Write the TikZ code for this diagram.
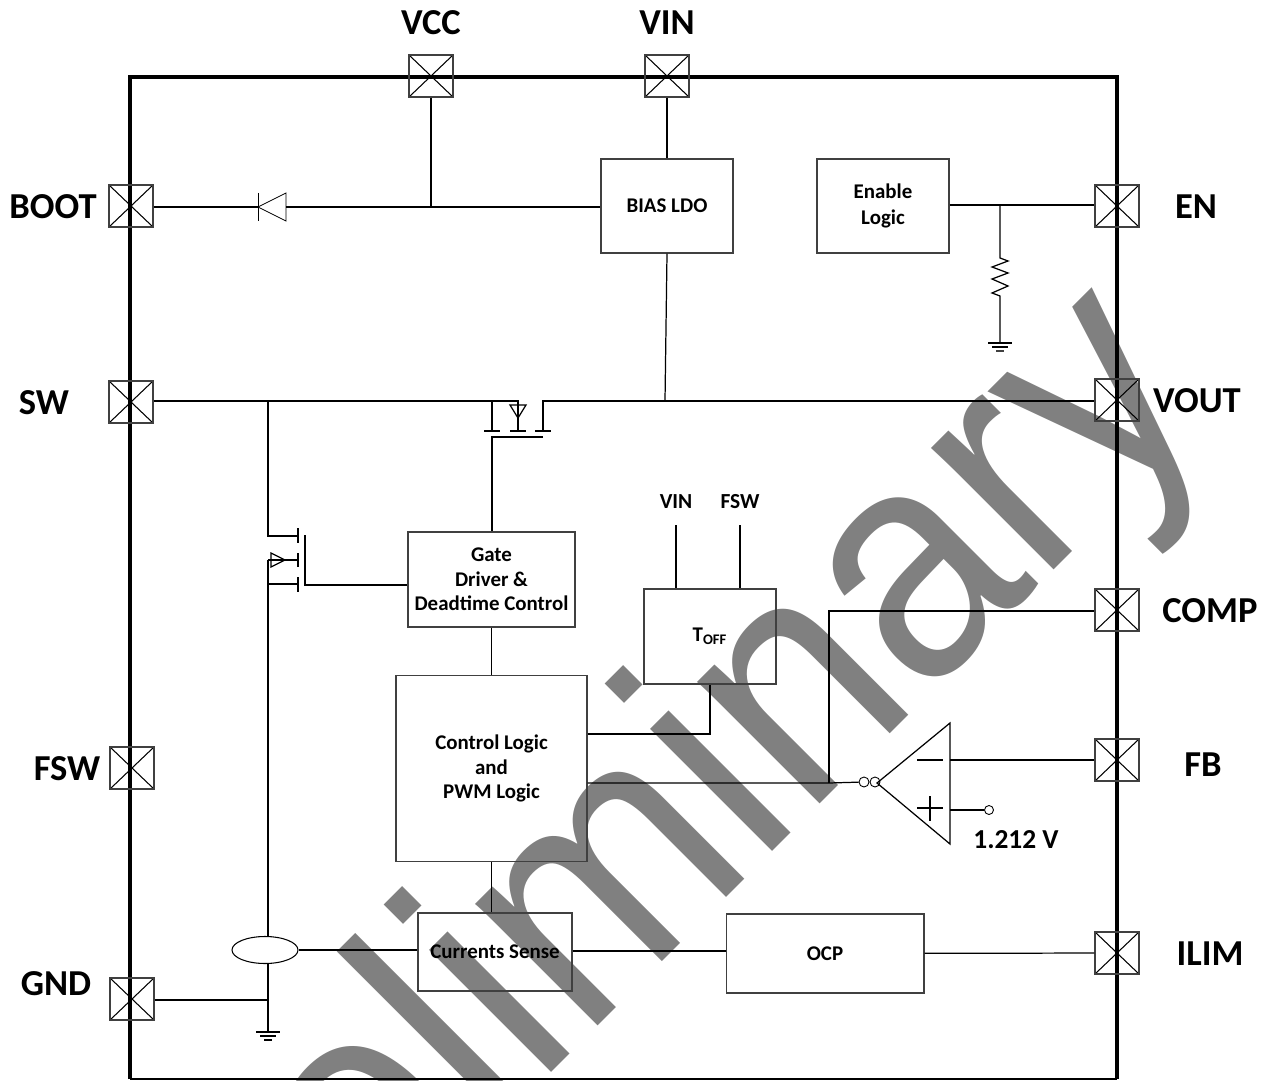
\documentclass[tikz,border=0pt]{standalone}
\usepackage{fontspec}
\setmainfont{Carlito}
\newfontfamily\markfont{Liberation Sans}
\usetikzlibrary{positioning}
\usetikzlibrary{calc}
\usetikzlibrary{shapes.geometric}
\definecolor{markgray}{HTML}{808080}
\definecolor{boxline}{HTML}{404040}

\begin{document}
\begin{tikzpicture}[
		x=0.02cm, y=-0.02cm,
		block/.style={rectangle, draw=boxline, line width=0.6pt, align=center,
				font=\fontsize{11.9}{14}\selectfont\bfseries, inner sep=0pt},
		pad/.style={rectangle, draw=boxline, line width=0.6pt, minimum width=0.88cm, minimum height=0.84cm,
				inner sep=0pt,
				path picture={\draw[black, line width=0.6pt]
						(path picture bounding box.north west) -- (path picture bounding box.south east)
						(path picture bounding box.north east) -- (path picture bounding box.south west);}},
		padname/.style={font=\fontsize{20.8}{22}\selectfont\bfseries, inner sep=0pt, yshift=-0.02cm},
		smalltext/.style={font=\fontsize{12.2}{14}\selectfont\bfseries, inner sep=0pt},
		wire/.style={line width=0.7pt, black},
		term/.style={circle, draw=black, line width=0.5pt, fill=white, inner sep=0pt, minimum size=0.2cm}
	]
	\useasboundingbox (0,0) rectangle (1268,1081);

	% watermark
	\begin{scope}
		\clip (0,0) rectangle (1268,1081);
		\node[markgray, rotate=45, anchor=base west, inner sep=0pt, font=\markfont\fontsize{186}{186}\selectfont] (mark) at (163,1461) {\scalebox{0.91}[1]{Preliminary}};
	\end{scope}

	% package outline
	\draw[black, line width=2.3pt] (130,1079) -- (130,77) -- (1117,77) -- (1117,1079);
	\draw[black, line width=1pt] (130,1079) -- (1117,1079);

	% pads
	\node[pad] (vcc) at (431,76) {};
	\node[pad] (vin) at (667,76) {};
	\node[pad] (boot) at (131,206) {};
	\node[pad] (sw) at (131,402) {};
	\node[pad] (fsw) at (132,768) {};
	\node[pad] (gnd) at (132,999) {};
	\node[pad] (en) at (1117,206) {};
	\node[pad] (vout) at (1117,400) {};
	\node[pad] (comp) at (1117,610) {};
	\node[pad] (fb) at (1117,760) {};
	\node[pad] (ilim) at (1117,953) {};

	\node[padname] (vcclabel) at (431,22) {VCC};
	\node[padname] (vinlabel) at (667,22) {VIN};
	\node[padname] (bootlabel) at (53,206) {BOOT};
	\node[padname] (swlabel) at (44,402) {SW};
	\node[padname] (fswlabel) at (67,768) {FSW};
	\node[padname] (gndlabel) at (56,983) {GND};
	\node[padname] (enlabel) at (1196,206) {EN};
	\node[padname] (voutlabel) at (1197,400) {VOUT};
	\node[padname] (complabel) at (1210,610) {COMP};
	\node[padname] (fblabel) at (1203,764) {FB};
	\node[padname] (ilimlabel) at (1210,953) {ILIM};

	% function blocks
	\node[block, minimum width=2.64cm, minimum height=1.88cm] (bias) at (667,206) {BIAS LDO};
	\node[block, minimum width=2.64cm, minimum height=1.88cm] (enable) at (883,206) {Enable\\[1pt]Logic};
	\node[block, minimum width=3.34cm, minimum height=1.9cm] (gate) at (491.5,579.5) {Gate\\Driver \&\\Deadtime Control};
	\node[block, minimum width=2.64cm, minimum height=1.9cm] (toff) at (710,636.5) {T\textsubscript{OFF}};
	\node[block, minimum width=3.82cm, minimum height=3.72cm] (control) at (491.5,768.5) {Control Logic\\and\\PWM Logic};
	\node[block, minimum width=3.08cm, minimum height=1.56cm] (sense) at (495,952) {Currents Sense};
	\node[block, minimum width=3.96cm, minimum height=1.58cm] (ocp) at (825,953.5) {OCP};
	\node[smalltext] (toffvin) at (676,502) {VIN};
	\node[smalltext] (tofffsw) at (740,502) {FSW};
	\node[font=\fontsize{15.6}{17}\selectfont\bfseries, inner sep=0pt] (vref) at (1016,840) {1.212 V};

	% top rail
	\coordinate (bootjoin) at (431,207);
	\coordinate (diodek) at (258,207);
	\coordinate (dioder) at (286,207);
	\draw[wire] (boot.east |- bootjoin) -- (diodek);
	\draw[wire] (dioder) -- (bootjoin) -- (bias.west |- bootjoin);
	\draw[wire] (vcc) -- (bootjoin);
	\draw[wire] (vin) -- (bias);
	\draw[wire, line width=0.5pt] (258,193) -- (258,221);
	\draw[wire, line width=0.5pt] (diodek) -- (286,193) -- (286,221) -- cycle;

	% enable pull-down
	\coordinate (enjoin) at (1000,205);
	\coordinate (rtop) at (1000,258);
	\coordinate (rbot) at (1000,296);
	\coordinate (engnd) at (1000,343);
	\draw[wire] (enable.east |- enjoin) -- (enjoin) -- (en.west |- enjoin);
	\draw[wire] (enjoin) -- (rtop) -- (1008,261) -- (992,267) -- (1008,273) -- (992,279) -- (1008,286) -- (992,293) -- (rbot) -- (engnd);
	\draw[wire] (988,343) -- (1012,343);
	\draw[wire] (992,347) -- (1008,347);
	\draw[wire, boxline] (996,351) -- (1004,351);

	% high side switch
	\coordinate (hsd) at (492,401);
	\coordinate (hsb) at (518,401);
	\coordinate (hss) at (543,401);
	\coordinate (hsg) at (492,437);
	\coordinate (swjoin) at (268,401);
	\coordinate (voutjoin) at (665,401);
	\draw[wire] (sw.east |- swjoin) -- (swjoin) -- (hsd) -- (hsb) -- (518,431);
	\draw[wire] (hsd) -- (492,431);
	\draw[wire] (543,431) -- (hss) -- (voutjoin) -- (vout.west |- voutjoin);
	\draw[wire] (484,431) -- (500,431) (510,431) -- (526,431) (535,431) -- (551,431);
	\draw[wire] (510,405) -- (526,405) -- (518,418) -- cycle;
	\draw[wire] (543,437) -- (hsg) -- (gate.north -| hsg);
	\draw[wire] (bias.south) -- (voutjoin);

	% low side switch
	\coordinate (lsd) at (268,536);
	\coordinate (lsb) at (268,560);
	\coordinate (lss) at (268,584);
	\coordinate (lsg) at (305,585);
	\draw[wire] (swjoin) -- (lsd) -- (298,536);
	\draw[wire] (298,528) -- (298,543) (298,553) -- (298,567) (298,577) -- (298,592);
	\draw[wire] (305,535) -- (lsg) -- (gate.west |- lsg);
	\draw[wire] (298,560) -- (lsb);
	\draw[wire] (271,553) -- (285,560) -- (271,567) -- cycle;
	\draw[wire] (298,584) -- (lss);

	% current sense and ground
	\node[ellipse, draw=black, line width=0.6pt, fill=white, minimum width=1.32cm, minimum height=0.54cm, inner sep=0pt] (senseloop) at (265,950) {};
	\coordinate (gndjoin) at (268,1000);
	\coordinate (gndend) at (268,1032);
	\draw[wire] (lsb) -- (268,937);
	\draw[wire] (268,963) -- (gndjoin) -- (gndend);
	\draw[wire] (gnd.east |- gndjoin) -- (gndjoin);
	\draw[wire] (256,1032) -- (280,1032);
	\draw[wire] (260,1036) -- (276,1036);
	\draw[wire] (264,1040) -- (272,1040);
	\draw[wire] (senseloop) -- (sense.west |- senseloop);

	% logic connections
	\draw[wire] (gate.south -| control.north) -- (control.north);
	\draw[wire] (control.south) -- (sense.north -| control.south);
	\draw[wire] (sense.east |- 0,951) -- (ocp.west |- 0,951);
	\draw[wire] (ocp) -- (ilim);
	\draw[wire] (toffvin.south |- 0,525) -- (toff.north -| toffvin);
	\draw[wire] (tofffsw.south |- 0,525) -- (toff.north -| tofffsw);
	\coordinate (toffjoin) at (710,734);
	\draw[wire] (control.east |- toffjoin) -- (toffjoin) -- (toff.south);

	% error amplifier
	\coordinate (amptip) at (877,783);
	\coordinate (amptop) at (950,723);
	\coordinate (ampbot) at (950,844);
	\coordinate (ampneg) at (950,760);
	\coordinate (amppos) at (950,810);
	\coordinate (compjoin) at (829,783);
	\node[term] (ampa) at (864,782) {};
	\node[term] (ampb) at (875,782) {};
	\node[term, minimum size=0.18cm] (vrefterm) at (989,810) {};
	\draw[wire] (amptip) -- (amptop) -- (ampbot) -- cycle;
	\draw[wire] (control.east |- compjoin) -- (compjoin) -- (ampa);
	\draw[wire] (compjoin) -- (829,611) -- (comp.west |- 0,611);
	\draw[wire] (ampneg) -- (fb.west |- ampneg);
	\draw[wire] (amppos) -- (vrefterm);
	\draw[wire] (917,760) -- (943,760);
	\draw[wire] (917,808) -- (943,808) (930,796) -- (930,821);
\end{tikzpicture}
\end{document}
